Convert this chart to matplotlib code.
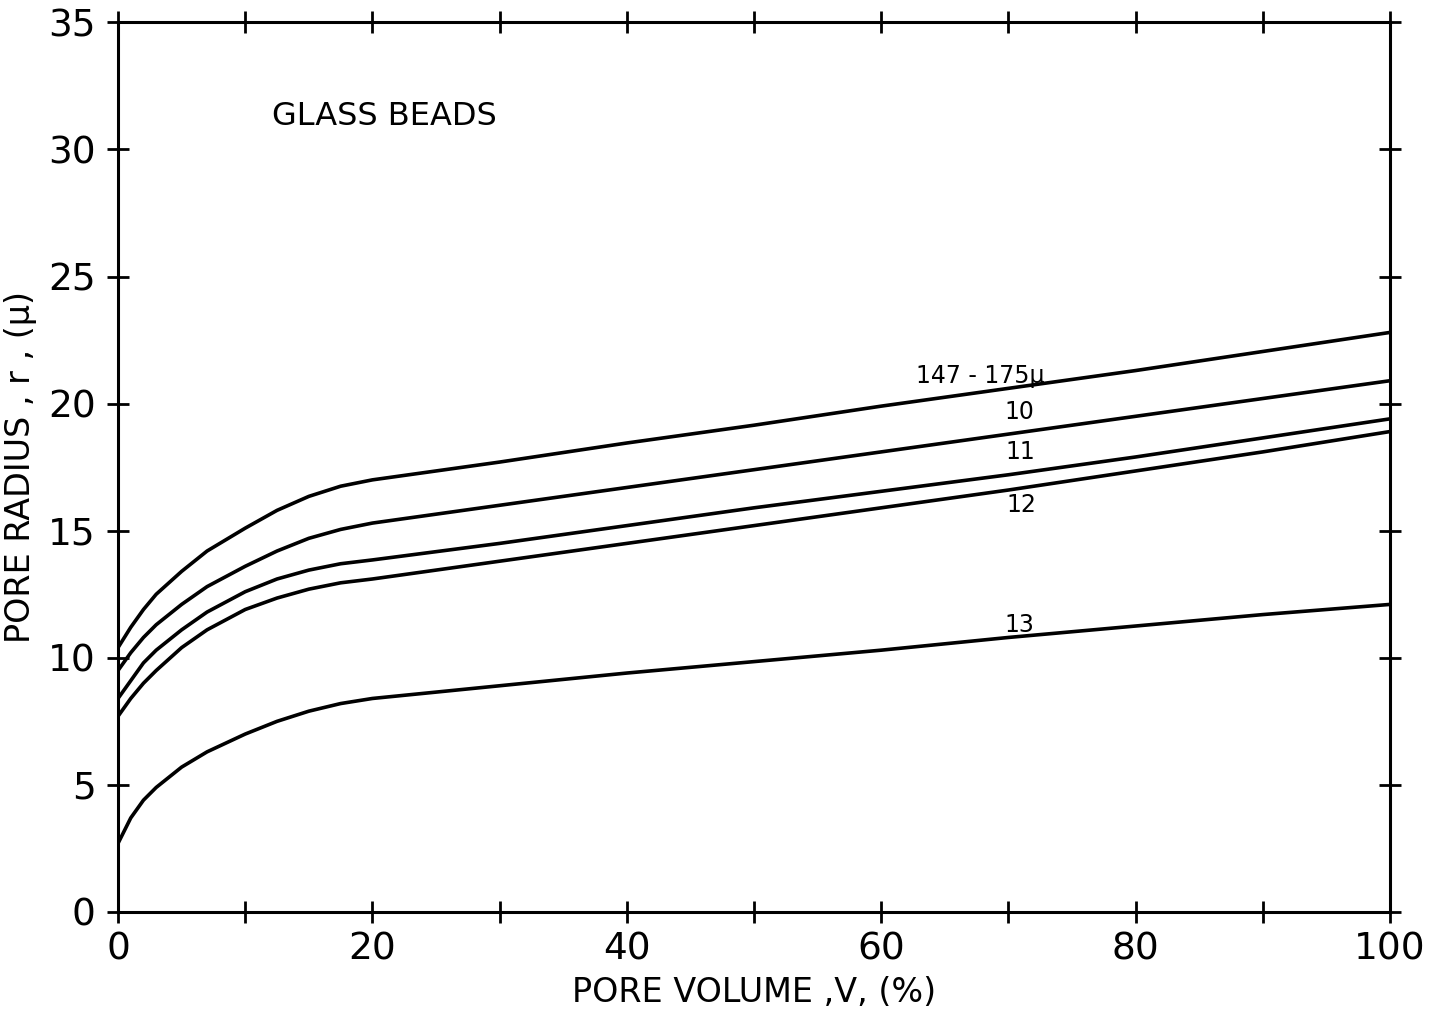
import matplotlib.pyplot as plt
from matplotlib.ticker import MultipleLocator

# pore volume (%) and pore radius (micron)
volume = [0, 1, 2, 3, 5, 7, 10, 12.5, 15, 17.5, 20, 30, 40, 50, 60, 70, 80, 90, 100]
r_147_175 = [10.4, 11.2, 11.9, 12.5, 13.4, 14.2, 15.1, 15.8, 16.35, 16.75, 17.0, 17.7, 18.45, 19.15, 19.9, 20.6, 21.3, 22.05, 22.8]
r_10 = [9.5, 10.2, 10.8, 11.3, 12.1, 12.8, 13.6, 14.2, 14.7, 15.05, 15.3, 16.0, 16.7, 17.4, 18.1, 18.8, 19.5, 20.2, 20.9]
r_11 = [8.4, 9.1, 9.8, 10.3, 11.1, 11.8, 12.6, 13.1, 13.45, 13.7, 13.85, 14.5, 15.2, 15.9, 16.55, 17.2, 17.9, 18.65, 19.4]
r_12 = [7.7, 8.4, 9.0, 9.5, 10.4, 11.1, 11.9, 12.35, 12.7, 12.95, 13.1, 13.8, 14.5, 15.2, 15.9, 16.6, 17.35, 18.1, 18.9]
r_13 = [2.7, 3.7, 4.4, 4.9, 5.7, 6.3, 7.0, 7.5, 7.9, 8.2, 8.4, 8.9, 9.4, 9.85, 10.3, 10.8, 11.25, 11.7, 12.1]

curves = [r_147_175, r_10, r_11, r_12, r_13]
labels = ['147 - 175μ', '10', '11', '12', '13']
label_pos = [(67.8, 21.1), (70.9, 19.65), (70.9, 18.1), (71.0, 16.0), (70.9, 11.3)]

fig = plt.figure(figsize=(14.29, 10.14), dpi=100)
ax = fig.add_axes([0.0826, 0.1006, 0.8901, 0.8774])

for r in curves:
    ax.plot(volume, r, color='black', lw=2.6, solid_joinstyle='round')

for txt, (x, y) in zip(labels, label_pos):
    ax.text(x, y, txt, fontsize=17, ha='center', va='center')

ax.text(12.1, 31.3, 'GLASS BEADS', fontsize=23, ha='left', va='center')

ax.set_xlim(0, 100)
ax.set_ylim(0, 35)
ax.xaxis.set_minor_locator(MultipleLocator(10))

ax.tick_params(axis='both', which='both', direction='inout', length=16, width=2,
               top=True, right=True, labelsize=27, pad=6)
ax.tick_params(axis='y', pad=8)
ax.set_xticks(range(0, 101, 20))
ax.set_yticks(range(0, 36, 5))

for s in ax.spines.values():
    s.set_linewidth(2.2)

ax.set_xlabel('PORE VOLUME ,V, (%)', fontsize=24, labelpad=6)
ax.set_ylabel('PORE RADIUS , r , (μ)', fontsize=24, labelpad=8)

fig.savefig('out.png', dpi=100)
